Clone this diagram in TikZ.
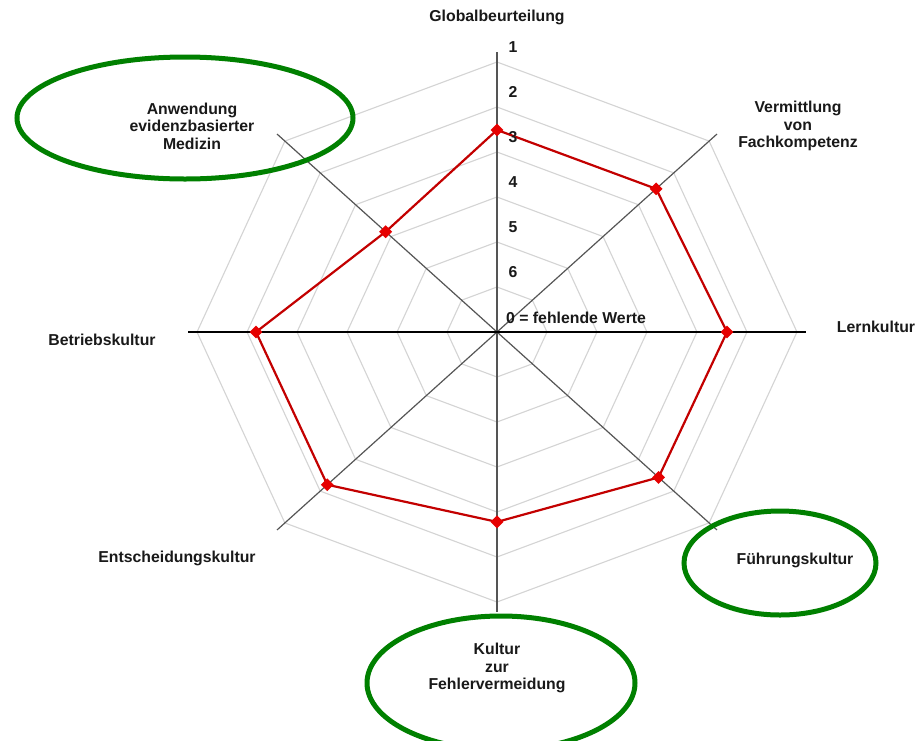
\documentclass[tikz,border=0pt]{standalone}
\usepackage{fontspec}
\setmainfont{Liberation Sans}
\usetikzlibrary{shapes.geometric}
\definecolor{ringgreen}{RGB}{0,128,0}
\definecolor{datared}{RGB}{195,0,0}
\definecolor{markred}{RGB}{230,0,0}
\definecolor{gridgray}{RGB}{212,212,212}
\definecolor{axisgray}{RGB}{85,85,85}
\tikzset{
  lbl/.style={font=\fontsize{15.8}{17.5}\selectfont\bfseries, align=center, inner sep=0pt, text=black!90},
  gridline/.style={draw=gridgray, line width=1.1pt},
  axisline/.style={draw=axisgray, line width=1.2pt},
  dataline/.style={draw=datared, line width=2.2pt, line join=miter},
  mk/.style={diamond, fill=markred, inner sep=0pt, minimum size=13pt},
  ring/.style={draw=ringgreen, line width=5pt}
}
\begin{document}
\begin{tikzpicture}[x=1pt, y=-1pt]
\useasboundingbox (0,0) rectangle (919,740);
\fill[white] (0,0) rectangle (919,740);
\begin{scope}[shift={(497,332)}, x=50pt, y=45pt]
  \coordinate (c) at (0,0);
  \foreach \r in {1,...,6}
    \draw[gridline] (0:\r) -- (45:\r) -- (90:\r) -- (135:\r) -- (180:\r) -- (225:\r) -- (270:\r) -- (315:\r) -- cycle;
  \foreach \a/\n in {45/ne,90/n,135/nw,225/sw,270/s,315/se} {
    \coordinate (ax\n) at (\a:6.22);
    \draw[axisline] (c) -- (ax\n);
  }
  \coordinate (axw) at (180:6.18);
  \coordinate (axe) at (0:6.18);
  \draw[black, line width=1.2pt] (axw) -- (axe);
  \coordinate (pn) at (90:4.49);
  \coordinate (pne) at (45:4.5);
  \coordinate (pe) at (0:4.6);
  \coordinate (pse) at (-45:4.57);
  \coordinate (ps) at (-90:4.22);
  \coordinate (psw) at (-135:4.8);
  \coordinate (pw) at (180:4.82);
  \coordinate (pnw) at (135:3.15);
  \draw[dataline] (pn) -- (pne) -- (pe) -- (pse) -- (ps) -- (psw) -- (pw) -- (pnw) -- cycle;
  \foreach \p in {pn,pne,pe,pse,ps,psw,pw,pnw}
    \node[mk] (m\p) at (\p) {};
\end{scope}
% scale numbers
\node[lbl] (n1) at (513,47) {1};
\node[lbl] (n2) at (513,92) {2};
\node[lbl] (n3) at (513,137) {3};
\node[lbl] (n4) at (513,182) {4};
\node[lbl] (n5) at (513,227) {5};
\node[lbl] (n6) at (513,272) {6};
\node[lbl, anchor=west] (n0) at (506,318) {0 = fehlende Werte};
% axis labels
\node[lbl] (tglob) at (497,17) {Globalbeurteilung};
\node[lbl] (tverm) at (798,126) {Vermittlung\\von\\Fachkompetenz};
\node[lbl] (tlern) at (876,327) {Lernkultur};
\node[lbl] (tfuehr) at (795,560) {Führungskultur};
\node[lbl] (tfehl) at (497,668) {Kultur\\zur\\Fehlervermeidung};
\node[lbl] (tents) at (177,558) {Entscheidungskultur};
\node[lbl] (tbetr) at (102,340) {Betriebskultur};
\node[lbl] (tanw) at (192,126) {Anwendung\\evidenzbasierter\\Medizin};
% green rings
\draw[ring] (185,118) ellipse [x radius=168pt, y radius=61pt];
\draw[ring] (780,563) ellipse [x radius=96pt, y radius=52pt];
\draw[ring] (501,683) ellipse [x radius=134pt, y radius=67pt];
\end{tikzpicture}
\end{document}
